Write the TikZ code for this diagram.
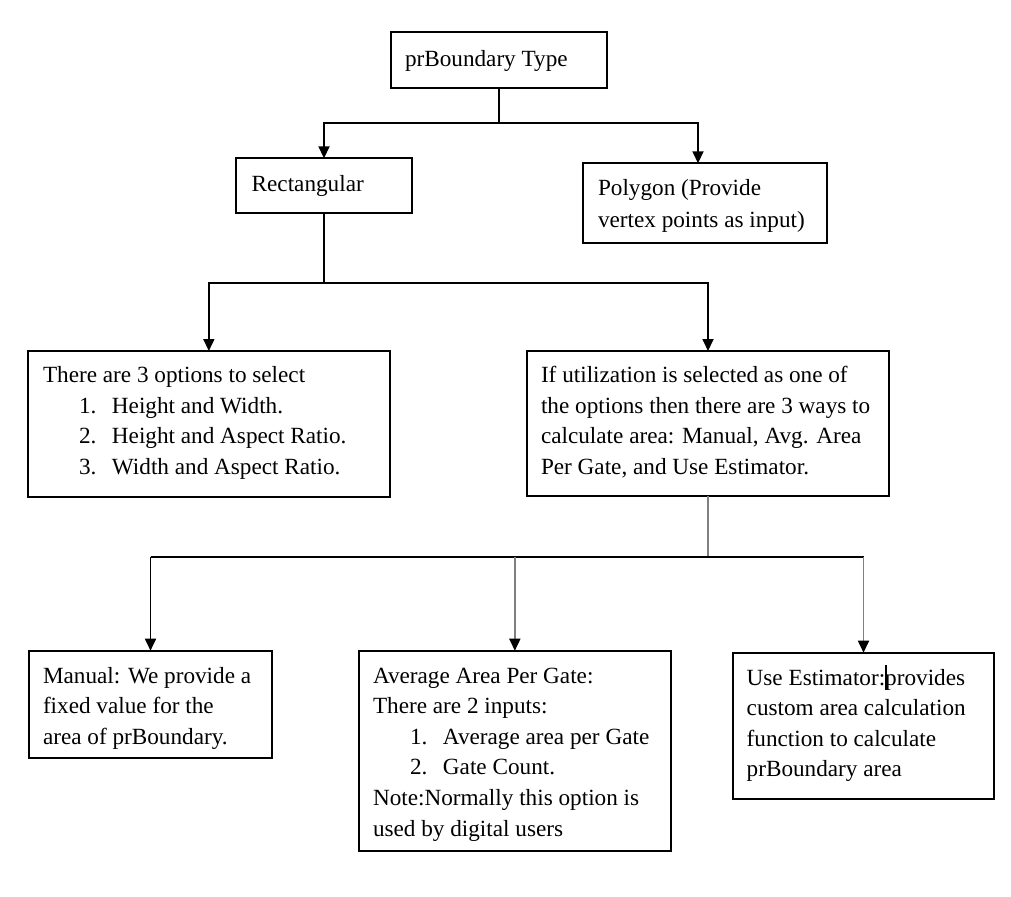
\documentclass[tikz,border=0pt]{standalone}
\usepackage{fontspec}
\setmainfont{Liberation Serif}
\usetikzlibrary{arrows.meta}
\begin{document}
\begin{tikzpicture}[x=1pt,y=-1pt,
  box/.style={draw, line width=1.8pt, inner sep=0pt, outer sep=0pt, anchor=north west},
  txt/.style={anchor=north west, inner sep=0pt, outer sep=0pt, align=left,
              font=\fontsize{23.2}{30.6}\selectfont},
  link/.style={line width=1.8pt},
  glink/.style={line width=1.8pt, draw=gray},
  arr/.style={line width=1.8pt, -{Triangle[width=11pt,length=12pt]}},
  garr/.style={line width=1.8pt, draw=gray, -{Triangle[width=11pt,length=12pt,color=black]}}]
\fill[white] (0,0) rectangle (1011,896);
\useasboundingbox (0,0) rectangle (1011,896);
% boxes
\node[box, minimum width=216.3pt, minimum height=56.6pt] (top) at (391,31.7) {};
\node[box, minimum width=176pt, minimum height=55pt] (rect) at (236,158.3) {};
\node[box, minimum width=243.4pt, minimum height=80pt] (poly) at (583.3,163.3) {};
\node[box, minimum width=362.3pt, minimum height=146.3pt] (opts) at (27.7,351) {};
\node[box, minimum width=362pt, minimum height=145pt] (util) at (527,351) {};
\node[box, minimum width=242.4pt, minimum height=107pt] (man) at (29.3,650.7) {};
\node[box, minimum width=311.7pt, minimum height=200.3pt] (avg) at (359,650.7) {};
\node[box, minimum width=261.6pt, minimum height=146.6pt] (est) at (732.7,652.7) {};
% texts
\node[txt] (topT) at (405,45.3) {\strut prBoundary Type};
\node[txt] (rectT) at (251.7,170.3) {\strut Rectangular};
\node[txt, font=\fontsize{23.2}{31.7}\selectfont] (polyT) at (598,173.6) {\strut Polygon (Provide\\\strut vertex points as input)};
\node[txt] (optsT) at (43,361.3) {\strut There are 3 options to select\\
  \strut\hspace*{36pt}\makebox[33pt][l]{1.}Height and Width.\\
  \strut\hspace*{36pt}\makebox[33pt][l]{2.}Height and Aspect Ratio.\\
  \strut\hspace*{36pt}\makebox[33pt][l]{3.}Width and Aspect Ratio.};
\node[txt] (utilT) at (541,361.3) {\strut If utilization is selected as one of\\
  \strut the options then there are 3 ways to\\
  \strut calculate area: Manual, Avg. Area\\
  \strut Per Gate, and Use Estimator.};
\node[txt] (manT) at (43,661.6) {\strut Manual: We provide a\\
  \strut fixed value for the\\
  \strut area of prBoundary.};
\node[txt] (avgT) at (373,661.6) {\strut Average Area Per Gate:\\
  \strut There are 2 inputs:\\
  \strut\hspace*{37pt}\makebox[33pt][l]{1.}Average area per Gate\\
  \strut\hspace*{37pt}\makebox[33pt][l]{2.}Gate Count.\\
  \strut Note:Normally this option is\\
  \strut used by digital users};
\node[txt] (estT) at (746.7,663.6) {\strut Use Estimator:\rlap{\rule[-5pt]{2.2pt}{25pt}}provides\\
  \strut custom area calculation\\
  \strut function to calculate\\
  \strut prBoundary area};
% connectors
\coordinate (j1) at (499.15,123);
\draw[link] (top.south) -- (j1);
\draw[arr] (j1) -| (rect.north);
\draw[arr] (j1) -| ([xshift=-7pt]poly.north);
\coordinate (j2) at (324,283);
\draw[link] (rect.south) -- (j2);
\draw[arr] (j2) -| (opts.north);
\draw[arr] (j2) -| (util.north);
\coordinate (j3) at (708,557.3);
\draw[glink] (util.south) -- (j3);
\draw[link] (man.north |- j3) -- (est.north |- j3);
\draw[arr] (man.north |- j3) -- (man.north);
\draw[garr] (avg.north |- j3) -- (avg.north);
\draw[garr] (est.north |- j3) -- (est.north);
\end{tikzpicture}
\end{document}
